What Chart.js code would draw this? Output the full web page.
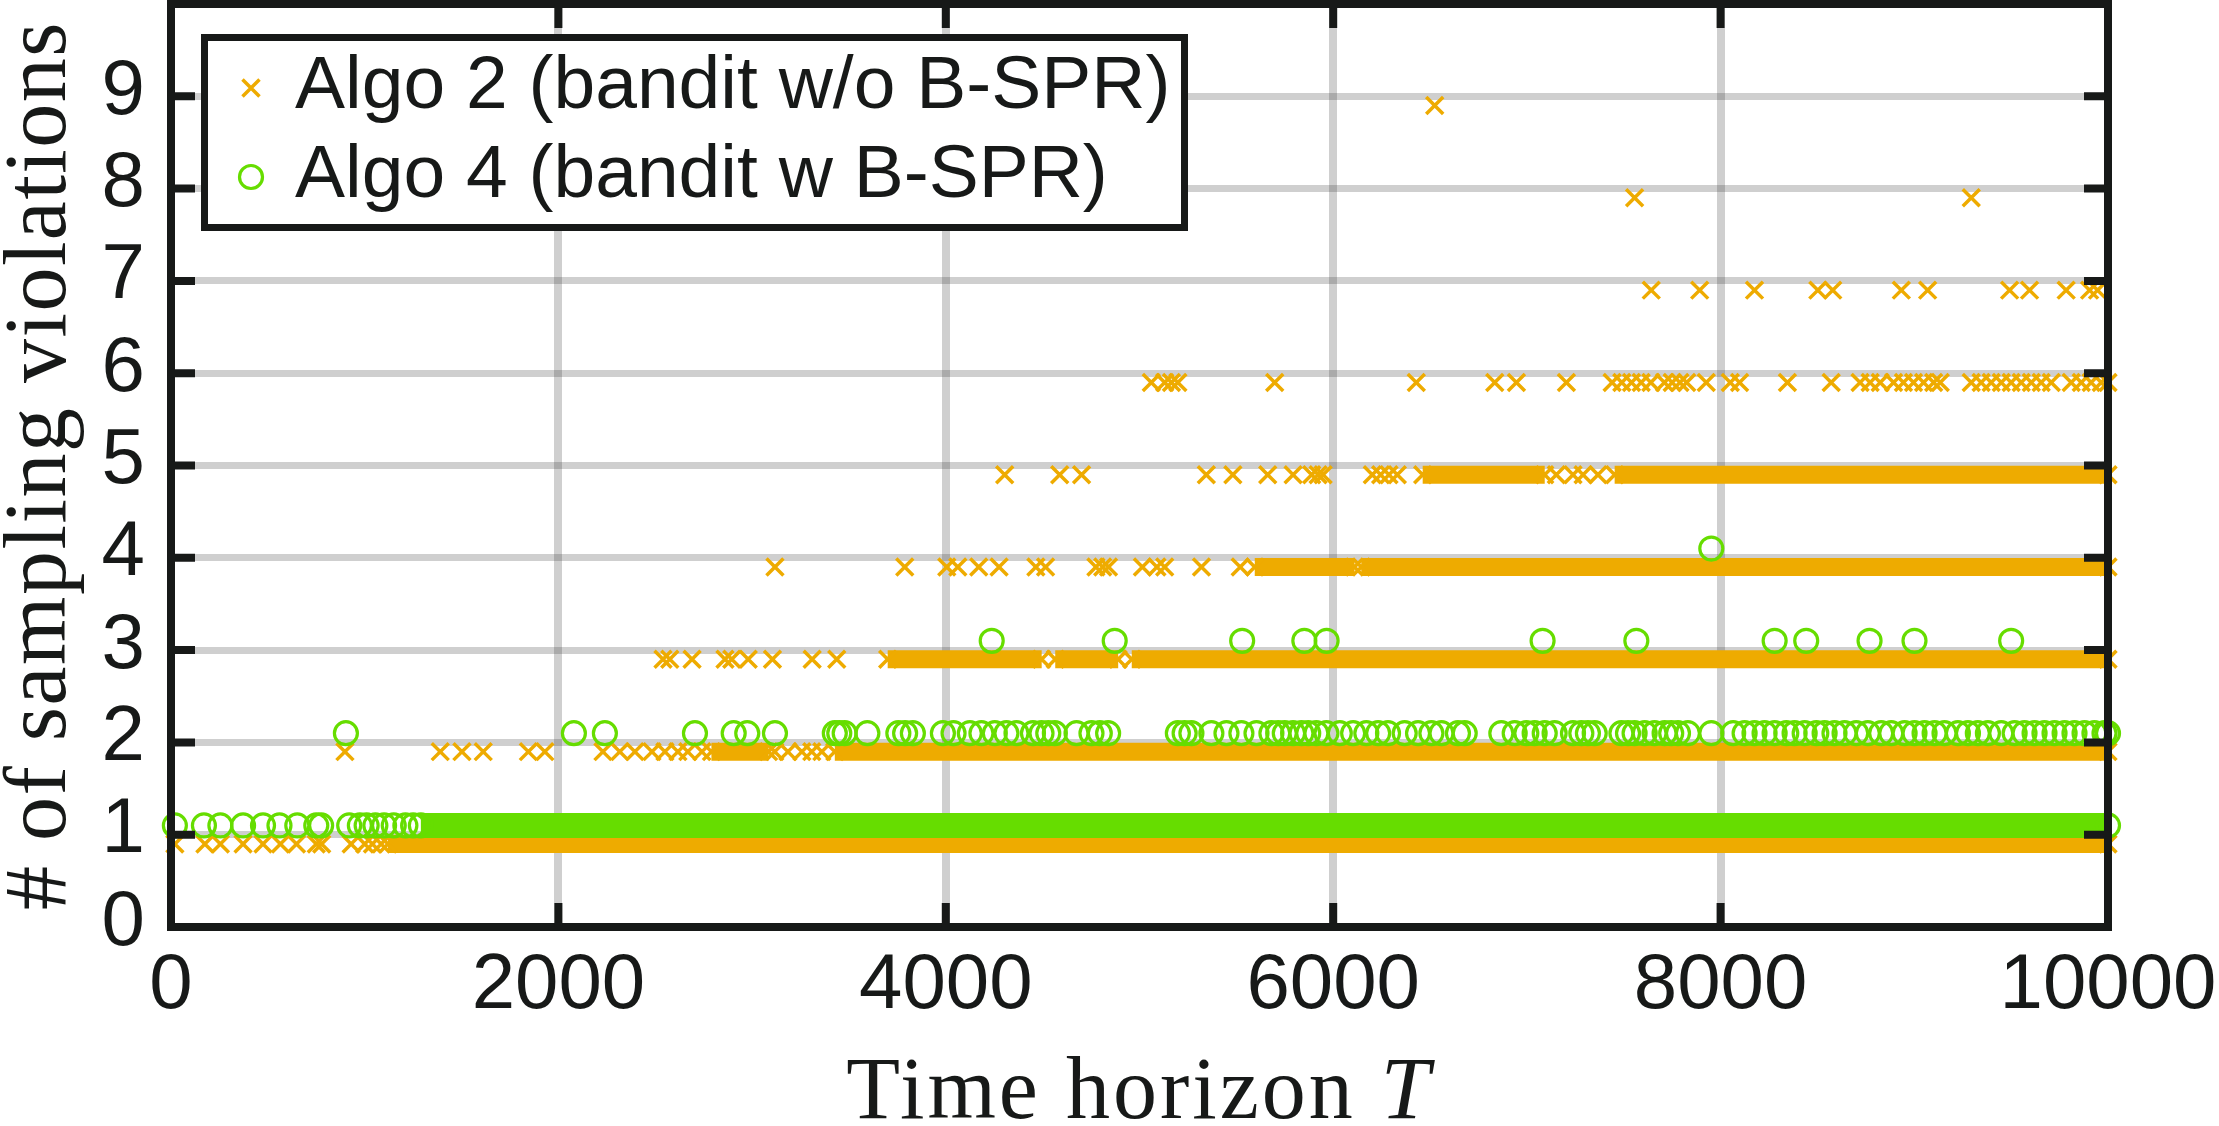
<!DOCTYPE html>
<html>
<head>
<meta charset="utf-8">
<script src="https://cdn.jsdelivr.net/npm/chart.js@4.4.0/dist/chart.umd.min.js"></script>
<style>
  html, body { margin: 0; padding: 0; background: #fff; }
  #wrap { width: 2219px; height: 1126px; }
</style>
</head>
<body>
<div id="wrap"><canvas id="chart" width="2219" height="1126"></canvas></div>
<script>
// axes
const xTicks = [0, 2000, 4000, 6000, 8000, 10000];
const yTicks = [0, 1, 2, 3, 4, 5, 6, 7, 8, 9];
const xTitle = "Time horizon ";
const xTitleVar = "T";
const yTitle = "# of sampling violations";

const algo2Label = "Algo 2 (bandit w/o B-SPR)";
const algo4Label = "Algo 4 (bandit w B-SPR)";

// Algo 2: single markers (T values) per violation count, and dense runs [from, to]
const algo2Pts1 = [20, 175, 255, 372, 475, 565, 648, 750, 778, 930, 1000, 1040, 1085];
const algo2Runs1 = [[1120, 10000]];
const algo2Pts2 = [898, 1390, 1502, 1612, 1845, 1930, 2230, 2317, 2395, 2483, 2550, 2617, 2668, 2741,
    3117, 3185, 3257, 3308, 3360];
const algo2Runs2 = [[2790, 3085], [3427, 10000]];
const algo2Pts3 = [2540, 2575, 2690, 2860, 2895, 2980, 3105, 3310, 3437];
const algo2Runs3 = [[3700, 4495], [4565, 4890], [4960, 10000]];
const algo2Pts4 = [3118, 3788, 4005, 4062, 4170, 4275, 4465, 4515, 4775, 4810, 4840, 5015, 5090, 5130,
    5320, 5520];
const algo2Runs4 = [[5595, 6110], [6145, 10000]];
const algo2Pts5 = [4304, 4588, 4701, 5345, 5482, 5662, 5793, 5889, 5922, 5948, 6202, 6245, 6288, 6331,
    7152, 7238, 7290, 7367];
const algo2Runs5 = [[6462, 7092], [7453, 10000]];
const algo2Pts6 = [5061, 5130, 5165, 5198, 5698, 6429, 6834, 6946, 7204, 7440, 7490, 7540, 7590, 7640,
    7710, 7750, 7790, 7825, 7926, 8050, 8098, 8345, 8571, 8720, 8772, 8824, 8893, 8944, 8996, 9048,
    9100, 9134, 9294, 9345, 9397, 9449, 9500, 9552, 9604, 9655, 9707, 9810, 9862, 9913, 9965, 10000];
const algo2Pts7 = [7642, 7892, 8175, 8502, 8579, 8933, 9069, 9492, 9595, 9784, 9905, 9946];
const algo2Pts8 = [7556, 9294];
const algo2Pts9 = [6524];

// Algo 4
const algo4Pts1 = [20, 170, 255, 372, 475, 560, 652, 750, 775, 920, 975, 1010, 1055, 1100, 1150, 1210, 1250];
const algo4Runs1 = [[1290, 10000]];
const algo4Pts2 = [903, 2080, 2240, 2705, 2905, 2975, 3118, 3427, 3450, 3478, 3595, 3755, 3790, 3830,
    3985, 4040, 4124, 4184, 4253, 4313, 4365, 4450, 4494, 4529, 4563, 4675, 4752, 4795, 4838,
    5198, 5233, 5268, 5371, 5449, 5526, 5604, 5681, 5716, 5750, 5793, 5836, 5871, 5913, 5965, 6034,
    6103, 6171, 6232, 6283, 6369, 6438, 6507, 6559, 6644, 6679, 6868, 6937, 6997, 7040, 7092, 7143,
    7238, 7281, 7315, 7350, 7488, 7522, 7556, 7608, 7659, 7711, 7745, 7780, 7831, 7952, 8065,
    8124, 8175, 8227, 8279, 8339, 8382, 8434, 8494, 8537, 8588, 8640, 8700, 8760, 8829, 8881, 8950,
    9001, 9053, 9105, 9156, 9225, 9277, 9328, 9380, 9449, 9518, 9569, 9621, 9672, 9724, 9776, 9827,
    9879, 9930, 9982, 10000];
const algo4Pts3 = [4237, 4872, 5530, 5851, 5966, 7081, 7565, 8279, 8442, 8769, 9001, 9500];
const algo4Pts4 = [7952];

const orange = "#EEAB00";
const green = "#66DD00";
const ink = "#171918";
const gridColor = "rgba(38,38,38,0.22)";
// markers are drawn slightly below / above the integer count so both series stay visible
const shift2 = -0.1;
const shift4 = 0.1;

function toPoints(levels, shift) {
    const out = [];
    levels.forEach((xs, i) => {
        xs.forEach(t => out.push({ x: t, y: i + 1 + shift }));
    });
    return out;
}

function toRuns(levels, shift) {
    const out = [];
    levels.forEach((runs, i) => {
        runs.forEach(r => {
            out.push({ x: r[0], y: i + 1 + shift }, { x: r[1], y: i + 1 + shift }, { x: r[1], y: null });
        });
    });
    return out;
}

const algo2Points = toPoints([algo2Pts1, algo2Pts2, algo2Pts3, algo2Pts4, algo2Pts5, algo2Pts6, algo2Pts7, algo2Pts8, algo2Pts9], shift2);
const algo2Bands = toRuns([algo2Runs1, algo2Runs2, algo2Runs3, algo2Runs4, algo2Runs5], shift2);
const algo4Points = toPoints([algo4Pts1, algo4Pts2, algo4Pts3, algo4Pts4], shift4);
const algo4Bands = toRuns([algo4Runs1], shift4);

const crossMarker = {
    pointStyle: "crossRot", pointRadius: 12, pointBorderWidth: 3.5,
    pointBorderColor: orange, pointBackgroundColor: orange
};
const circleMarker = {
    pointStyle: "circle", pointRadius: 11.5, pointBorderWidth: 3.2,
    pointBorderColor: green, pointBackgroundColor: "rgba(0,0,0,0)"
};

// box, inward ticks, legend and axis titles
const decorations = {
    id: "decorations",
    afterDraw(chart) {
        const { ctx, chartArea: a } = chart;
        const sx = chart.scales.x, sy = chart.scales.y;
        ctx.save();
        ctx.strokeStyle = ink;
        ctx.lineWidth = 8;
        ctx.lineJoin = "miter";
        ctx.strokeRect(a.left, a.top, a.right - a.left, a.bottom - a.top);

        const tl = 24;
        ctx.beginPath();
        xTicks.forEach(v => {
            const px = sx.getPixelForValue(v);
            ctx.moveTo(px, a.bottom); ctx.lineTo(px, a.bottom - tl);
            ctx.moveTo(px, a.top); ctx.lineTo(px, a.top + tl);
        });
        yTicks.forEach(v => {
            const py = sy.getPixelForValue(v);
            ctx.moveTo(a.left, py); ctx.lineTo(a.left + tl, py);
            ctx.moveTo(a.right, py); ctx.lineTo(a.right - tl, py);
        });
        ctx.stroke();

        // legend
        const lx = a.left + 30, ly = a.top + 30;
        ctx.fillStyle = "#fff";
        ctx.fillRect(lx, ly, 987, 197);
        ctx.lineWidth = 7;
        ctx.strokeRect(lx + 3.5, ly + 3.5, 980, 190);

        const mx = lx + 50;
        const r1 = ly + 54, r2 = ly + 143;
        ctx.strokeStyle = orange;
        ctx.lineWidth = 3.5;
        ctx.beginPath();
        ctx.moveTo(mx - 8.5, r1 - 8.5); ctx.lineTo(mx + 8.5, r1 + 8.5);
        ctx.moveTo(mx - 8.5, r1 + 8.5); ctx.lineTo(mx + 8.5, r1 - 8.5);
        ctx.stroke();
        ctx.strokeStyle = green;
        ctx.lineWidth = 3.2;
        ctx.beginPath();
        ctx.arc(mx, r2, 11.5, 0, Math.PI * 2);
        ctx.stroke();

        ctx.fillStyle = ink;
        ctx.font = '75px "Liberation Sans", Arial, sans-serif';
        ctx.textBaseline = "alphabetic";
        ctx.textAlign = "left";
        ctx.fillText(algo2Label, lx + 94, r1 + 20);
        ctx.fillText(algo4Label, lx + 94, r2 + 20);

        // x title with italic T
        ctx.letterSpacing = "3px";
        ctx.font = '88px "Liberation Serif", serif';
        const w1 = ctx.measureText(xTitle).width;
        ctx.font = 'italic 88px "Liberation Serif", serif';
        const w2 = ctx.measureText(xTitleVar).width;
        const cx = (a.left + a.right) / 2;
        const x0 = cx - (w1 + w2) / 2;
        ctx.font = '88px "Liberation Serif", serif';
        ctx.fillText(xTitle, x0, 1118);
        ctx.font = 'italic 88px "Liberation Serif", serif';
        ctx.fillText(xTitleVar, x0 + w1, 1118);

        // y title
        ctx.letterSpacing = "1.5px";
        ctx.font = '88px "Liberation Serif", serif';
        ctx.translate(65, (a.top + a.bottom) / 2);
        ctx.rotate(-Math.PI / 2);
        ctx.textAlign = "center";
        ctx.fillText(yTitle, 0, 0);
        ctx.restore();
    }
};

new Chart(document.getElementById("chart"), {
    type: "scatter",
    data: {
        datasets: [
            { label: algo4Label, data: algo4Bands, showLine: true, borderColor: green, borderWidth: 25,
              borderCapStyle: "butt", spanGaps: false, clip: false, order: 1, ...circleMarker },
            { label: algo4Label, data: algo4Points, showLine: false, clip: false, order: 1, ...circleMarker },
            { label: algo2Label, data: algo2Bands, showLine: true, borderColor: orange, borderWidth: 18,
              borderCapStyle: "butt", spanGaps: false, clip: false, order: 2, ...crossMarker },
            { label: algo2Label, data: algo2Points, showLine: false, clip: false, order: 2, ...crossMarker }
        ]
    },
    options: {
        responsive: false,
        devicePixelRatio: 1,
        animation: false,
        events: [],
        layout: { autoPadding: false, padding: { left: 0, right: 111, top: 4, bottom: 0 } },
        plugins: {
            legend: { display: false },
            tooltip: { enabled: false }
        },
        scales: {
            x: {
                type: "linear", position: "bottom", min: 0, max: 10000, z: 1,
                afterBuildTicks: s => { s.ticks = xTicks.map(v => ({ value: v })); },
                afterFit: s => { s.height = 199; s.paddingLeft = 0; s.paddingRight = 0; },
                ticks: {
                    padding: 13, color: ink, maxRotation: 0, autoSkip: false,
                    font: { family: "'Liberation Sans', Arial, sans-serif", size: 78 },
                    callback: v => String(v)
                },
                grid: { color: gridColor, lineWidth: 8, drawTicks: false },
                border: { display: true, color: ink, width: 8 }
            },
            y: {
                type: "linear", position: "left", min: 0, max: 10, z: 1,
                afterBuildTicks: s => { s.ticks = yTicks.map(v => ({ value: v })); },
                afterFit: s => { s.width = 171; s.paddingTop = 0; s.paddingBottom = 0; },
                ticks: {
                    padding: 26, color: ink, autoSkip: false, labelOffset: -4,
                    font: { family: "'Liberation Sans', Arial, sans-serif", size: 78 },
                    callback: v => String(v)
                },
                grid: { color: gridColor, lineWidth: 7, drawTicks: false },
                border: { display: true, color: ink, width: 8 }
            }
        }
    },
    plugins: [decorations]
});
</script>
</body>
</html>
